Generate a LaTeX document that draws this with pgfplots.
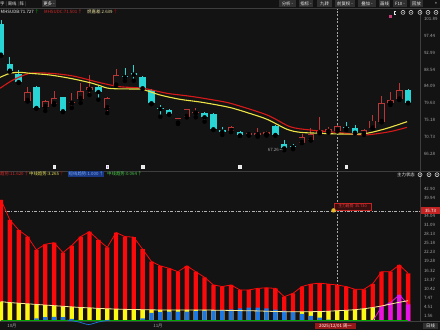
\documentclass[border=0pt]{standalone}
\usepackage{pgfplots}
\pgfplotsset{compat=1.18}
\usepackage{pgfplotstable}
\usepackage{fontspec}
\setmainfont{Noto Sans CJK SC}
\definecolor{bg}{RGB}{19,19,19}
\definecolor{cyanC}{RGB}{40,212,212}
\definecolor{redC}{RGB}{185,55,55}
\definecolor{maY}{RGB}{238,228,70}
\definecolor{maR}{RGB}{215,25,25}
\definecolor{barR}{RGB}{250,10,10}
\definecolor{barY}{RGB}{250,250,20}
\definecolor{barB}{RGB}{30,120,225}
\definecolor{barM}{RGB}{230,20,230}
\definecolor{lineC}{RGB}{62,62,62}
\definecolor{txtG}{RGB}{165,165,165}
\definecolor{btn}{RGB}{48,48,48}
\definecolor{lavender}{RGB}{190,150,235}
\definecolor{ylline}{RGB}{250,235,150}
\definecolor{legR}{RGB}{215,40,40}
\definecolor{legW}{RGB}{235,225,160}
\definecolor{legY}{RGB}{230,225,90}
\definecolor{legBbg}{RGB}{25,55,130}
\definecolor{legB}{RGB}{120,170,250}
\definecolor{legG}{RGB}{70,200,70}
\definecolor{pinkM}{RGB}{200,60,120}
\definecolor{tipbg}{RGB}{55,15,15}
\definecolor{tipR}{RGB}{235,60,60}
\definecolor{dotY}{RGB}{230,185,40}
\definecolor{boxR}{RGB}{195,35,35}
\definecolor{dateR}{RGB}{150,25,25}
\newcommand\tf{\fontsize{4.4}{5}\selectfont}

\pgfplotstableread{
i O H L C
0 100.60 101.50 92.20 92.46
1 90.09 91.77 87.90 88.24
2 87.44 88.50 85.00 85.25
4 84.01 84.20 78.20 78.39
7 81.21 81.40 77.30 77.51
11 83.93 84.10 80.58 82.61
14 86.92 88.95 85.52 86.57
15 87.63 89.66 85.59 87.18
16 86.65 86.80 83.40 83.59
17 83.14 83.30 79.40 79.63
18 78.46 79.18 76.09 78.12
19 77.86 78.00 76.60 76.80
23 76.99 77.20 74.77 75.93
24 76.80 77.00 72.60 72.76
25 72.58 73.29 71.26 72.13
27 72.05 72.20 71.00 71.18
31 73.63 73.80 71.10 71.26
32 68.88 69.93 67.26 67.74
33 68.35 68.90 67.50 68.01
39 73.29 74.77 72.58 73.03
40 73.03 73.90 71.70 71.86
46 83.14 83.30 79.60 79.78
}\downc

\pgfplotstableread{
i O H L C
3 80.31 83.85 80.10 82.53
5 78.65 80.40 77.59 80.23
6 79.44 82.80 79.20 81.03
8 79.60 82.35 78.39 79.71
9 80.84 84.99 79.71 82.80
10 83.22 87.18 81.82 83.93
12 78.39 81.20 77.06 81.03
13 84.38 88.76 84.20 87.02
20 74.34 75.80 74.20 75.66
21 76.09 78.20 75.90 78.04
22 76.99 78.30 75.93 77.41
26 72.39 73.60 72.00 73.29
28 71.26 71.90 71.10 71.71
29 71.26 73.03 70.80 71.71
30 71.40 72.40 71.10 72.00
34 69.22 71.52 69.10 70.65
35 69.93 73.03 69.80 71.52
36 71.86 75.93 71.71 72.58
37 72.13 73.29 71.86 72.76
38 72.39 74.00 72.20 73.63
41 71.44 72.80 71.30 72.58
42 73.03 76.54 72.90 75.03
43 74.77 81.55 74.60 79.63
44 79.63 82.70 79.18 80.50
45 80.68 84.91 80.50 83.14
}\upc

\pgfplotstableread{
i R Y YB B M G
0 39.2 6.2 6.2 0 0 0.25
1 32.7 5.9 5.9 0 0 0.25
2 29.4 5.7 5.7 0 0 0.25
3 27.3 5.5 5.5 0 0 0.25
4 23.0 5.3 5.3 0.8 0 0.25
5 24.8 5.1 5.1 1.2 0 0.25
6 25.3 4.9 4.9 1.3 0 0.25
7 22.1 4.7 4.7 1.2 0 0.25
8 24.4 4.5 4.5 0.6 0 0.25
9 27.3 4.3 4.3 0 0 0.25
10 28.9 4.2 4.2 0 0 0.25
11 26.2 4.0 4.0 0 0 0.25
12 23.8 3.9 3.9 0 0 0.25
13 28.6 3.8 3.8 0 0 0.25
14 27.3 3.7 3.7 0 0 0.25
15 27.1 3.65 3.65 0 0 0.25
16 23.2 3.6 3.6 0.8 0 0.25
17 19.2 3.55 3.55 2.6 0 0.25
18 17.8 3.5 3.5 2.9 0 0.25
19 17.0 3.5 3.5 3.0 0 0.25
20 15.9 3.5 3.5 3.0 0 0.25
21 17.8 3.5 3.5 3.0 0 0.25
22 15.9 3.5 3.5 3.1 0 0.25
23 14.1 3.5 3.5 3.3 0 0.25
24 11.6 3.45 3.45 3.4 0 0.25
25 11.1 3.4 3.4 3.5 0 0.25
26 11.6 3.35 3.35 3.7 0 0.25
27 10.0 3.3 3.3 4.0 0 0.25
28 10.0 3.25 3.25 4.3 0 0.25
29 10.5 3.2 3.2 4.3 0 0.25
30 10.7 3.1 3.1 4.0 0 0.25
31 10.5 3.0 3.0 3.6 0 0.25
32 7.8 2.95 2.95 3.3 0 0.25
33 8.9 2.9 2.9 2.8 0 0.25
34 11.1 2.9 2.9 2.2 0 0.25
35 11.9 2.95 2.95 1.6 0 0.25
36 12.2 3.0 3.0 1.0 0 0.25
37 11.9 3.1 3.1 0.4 0 0.25
38 11.6 3.27 3.27 0 0 0.25
39 11.1 3.4 3.4 0 0 0.25
40 10.2 3.6 3.6 0 0 0.25
41 10.2 3.9 3.9 0 0 0.25
42 12.0 4.3 4.3 0 0 0.25
43 15.9 4.8 0 0 4.5 0.25
44 15.9 5.4 0 0 5.9 0.25
45 18.1 6.0 0 0 8.4 0.25
46 15.4 6.5 0 0 5.3 0.25
}\lowt

\pgfplotsset{
  panel/.style={
    scale only axis, width=420pt, xmin=-0.113, xmax=47.34,
    axis x line=none, axis y line*=right,
    y axis line style={draw=none}, major tick length=0pt,
    yticklabel style={font=\tf, text=txtG, anchor=west, xshift=0.5pt},
    /pgf/number format/assume math mode=true,
  },
}

\begin{document}
\begin{tikzpicture}[x=1pt,y=1pt]
\useasboundingbox (0pt,0pt) rectangle (440pt,330pt);
\fill[bg] (0pt,0pt) rectangle (440pt,330pt);

% separators
\draw[lineC, line width=0.5pt] (0,159) -- (440,159);
\draw[lineC, line width=0.5pt] (420,8) -- (420,321);
\draw[lineC, line width=0.5pt] (0,8.3) -- (440,8.3);
\draw[lineC, line width=0.4pt] (0,321.5) -- (440,321.5);

% crosshair
\draw[gray!70, line width=0.35pt, dash pattern=on 2pt off 1.5pt] (337,9) -- (337,321);
\draw[gray!60, line width=0.35pt, dash pattern=on 3pt off 1.5pt on 0.8pt off 1.5pt] (0,119.3) -- (420,119.3);

% ---------- upper panel ----------
\begin{axis}[panel, at={(0pt,162pt)}, anchor=south west, height=158pt,
  ymin=62.54, ymax=104.27,
  ytick={66.28,70.73,75.18,79.63,84.09,88.54,92.99,97.44,101.89},
  yticklabels={66.28,70.73,75.18,79.63,84.09,88.54,92.99,97.44,101.89},
  clip=false]
% wicks
\addplot[only marks, mark=none, error bars/.cd, y dir=plus, y explicit, error mark=none,
  error bar style={draw=cyanC, line width=0.75pt}]
  table[x=i, y=L, y error plus expr={\thisrow{H}-\thisrow{L}}] {\downc};
\addplot[only marks, mark=none, error bars/.cd, y dir=plus, y explicit, error mark=none,
  error bar style={draw=redC, line width=0.7pt}]
  table[x=i, y=L, y error plus expr={\thisrow{H}-\thisrow{L}}] {\upc};
% bodies
\addplot[only marks, mark=none, error bars/.cd, y dir=plus, y explicit, error mark=none,
  error bar style={draw=cyanC, line width=6.5pt}]
  table[x=i, y expr={min(\thisrow{O},\thisrow{C})}, y error plus expr={max(abs(\thisrow{C}-\thisrow{O}),0.3)}] {\downc};
\addplot[only marks, mark=none, error bars/.cd, y dir=plus, y explicit, error mark=none,
  error bar style={draw=redC, line width=6.5pt}]
  table[x=i, y expr={min(\thisrow{O},\thisrow{C})}, y error plus expr={max(abs(\thisrow{C}-\thisrow{O}),0.3)}] {\upc};
\addplot[only marks, mark=none, error bars/.cd, y dir=plus, y explicit, error mark=none,
  error bar style={draw=bg, line width=5.1pt}]
  table[x=i, y expr={min(\thisrow{O},\thisrow{C})+0.19}, y error plus expr={max(abs(\thisrow{C}-\thisrow{O})-0.38,0)}] {\upc};
% moving averages
\addplot[maR, line width=1.1pt, smooth, mark=none] coordinates {
(-0.11,83.59) (1.36,85.78) (3.28,87.55) (5.54,87.55) (8.14,86.84) (11.19,85.07)
(13.45,84.01) (16.05,83.59) (18.76,82.27) (21.02,81.6) (22.49,81.1) (24.75,80.2)
(26.21,79.44) (30.06,76.54) (32.66,73.45) (34.92,72.58) (38.31,71.86) (40.90,71.26)
(42.82,71.71) (44.29,72.31) (45.88,73.29)};
\addplot[maY, line width=1.1pt, smooth, mark=none] coordinates {
(-0.11,86.49) (1.02,87.55) (2.15,87.81) (3.28,87.55) (5.54,87.10) (7.80,86.23)
(10.06,85.07) (11.19,84.27) (12.32,83.54) (14.92,83.40) (16.05,83.27) (17.97,81.82)
(20.23,80.68) (22.49,79.97) (24.75,79.05) (26.21,78.31) (28.14,76.93) (30.06,75.40)
(32.32,72.76) (33.79,71.97) (36.05,71.71) (38.31,71.52) (40.56,71.52) (41.69,71.86)
(43.62,73.03) (45.88,74.77)};
% signal squares
\addplot[only marks, mark=square*, mark size=1.4pt, draw=white!85!gray, fill=white!80!gray]
  coordinates {(6,62.85) (16,62.85) (27,62.85) (39,62.85)};
\addplot[only marks, mark=square*, mark size=1.4pt, draw=white!85!gray, fill=lavender]
  coordinates {(12,62.85)};
\end{axis}

% ---------- lower panel ----------
\begin{axis}[panel, at={(0pt,8.6pt)}, anchor=south west, height=143.45pt,
  ymin=-0.2, ymax=46.3, clip=false,
  ytick={1.56,4.51,7.47,10.42,13.37,16.32,19.28,22.23,25.18,28.13,31.09,34.04,39.94,42.90},
  yticklabels={1.56,4.51,7.47,10.42,13.37,16.32,19.28,22.23,25.18,28.13,31.09,34.04,39.94,42.90}]
\addplot[ybar, bar width=4.3pt, bar shift=0pt, fill=barR, draw=none] table[x=i, y=R] {\lowt};
\addplot[barR, line width=0.8pt, sharp plot, mark=none] table[x=i, y=R] {\lowt};
\addplot[ybar, bar width=4.3pt, bar shift=0pt, fill=barY, draw=none] table[x=i, y=YB] {\lowt};
\addplot[ybar, bar width=4.3pt, bar shift=0pt, fill=barB, draw=none] table[x=i, y=B] {\lowt};
\addplot[ybar, bar width=4.3pt, bar shift=0pt, fill=barM, draw=none] table[x=i, y=M] {\lowt};
\addplot[barM, line width=0.8pt, mark=none] coordinates {(42,0) (43,4.5) (44,5.9) (45,8.4) (46,5.3)};
\addplot[green!65!black, line width=0.6pt, mark=none] table[x=i, y=G] {\lowt};
\addplot[barB, line width=0.7pt, smooth, mark=none] coordinates {(7.5,0.25) (8.8,-0.4) (9.9,-1.2) (11,-0.4) (12.3,0.25)};
\addplot[ylline, line width=0.8pt, mark=none] table[x=i, y=Y] {\lowt};
\end{axis}

% ---------- texts ----------
% top toolbar
\foreach \a/\b/\t in {279/296/分析 -, 299/313/指标 -, 317/332/九转, 335/355/前复权 -, 358/376/叠加 -, 379/390/画线, 393/407/F10 -, 410/423/回放}{
  \fill[btn] (\a,322.6) rectangle (\b,329.6);
  \node[font=\tf, text=white!85!gray, inner sep=0pt] at ({(\a+\b)/2},326.1) {\t};
}
\node[font=\tf, text=white!85!gray, inner sep=0pt] at (436,326.1) {»};
\node[font=\tf, text=white!80!gray, inner sep=0pt, anchor=west] at (0,326.1) {字 \textcolor{gray}{|} 周线 \textcolor{gray}{|} 阵 \textcolor{gray}{|}};
\fill[btn] (42,322.6) rectangle (56,329.6);
\node[font=\tf, text=white!85!gray, inner sep=0pt] at (49,326.1) {更多 -};

% upper legend
\node[font=\tf, text=white!85!gray, inner sep=0pt, anchor=west] at (0.5,318.6) {MHSUDB:71.727\,\textcolor{green!70!black}{↑}};
\node[font=\tf, text=legR, inner sep=0pt, anchor=west] at (44,318.6) {MHSUDC:71.501\,↑};
\node[font=\tf, text=legW, inner sep=0pt, anchor=west] at (87,318.6) {燃嘉差:2.639\,\textcolor{red!80!black}{↑}};
% icons
\foreach \x in {403,411,420,428,436}{\draw[white!80!gray, line width=0.5pt] (\x,317.6) circle (2pt); \fill[white!80!gray] (\x,317.6) circle (0.6pt);}
\draw[white!80!gray, line width=0.5pt] (396,319) -- (394,319) -- (394,316) -- (396,316);
\fill[pinkM] (389,312.3) rectangle (391.5,314.8);

% low-price label
\node[font=\tf, text=txtG, inner sep=0pt, anchor=east] at (279,180.5) {67.26};
\draw[txtG, line width=0.3pt] (279.5,180.5) -- (283,180);

% lower legend
\node[font=\tf, text=legR, inner sep=0pt, anchor=west] at (0,155.8) {趋势:11.620\,↑};
\node[font=\tf, text=legY, inner sep=0pt, anchor=west] at (29,155.8) {中线趋势:3.265\,\textcolor{red!80!black}{↑}};
\fill[legBbg] (67.5,153) rectangle (104,158.6);
\node[font=\tf, text=legB, inner sep=0pt, anchor=west] at (68.5,155.8) {短线趋势:1.000\,↑};
\node[font=\tf, text=legG, inner sep=0pt, anchor=west] at (107,155.8) {中线趋势:0.064\,↑};
\node[font=\tf, text=white!85!gray, inner sep=0pt] at (406,155.3) {主力状态};
\foreach \x in {420,429,437}{\draw[white!80!gray, line width=0.5pt] (\x,155.3) circle (2pt); \fill[white!80!gray] (\x,155.3) circle (0.6pt);}

% crosshair tooltip and value box
\fill[tipbg] (334,120.2) rectangle (371,127);
\draw[boxR, line width=0.4pt] (334,120.2) rectangle (371,127);
\node[font=\fontsize{3.8}{4}\selectfont, text=tipR, inner sep=0pt] at (352.5,123.6) {主力趋势\, 35.730};
\fill[dotY] (333.5,119.6) circle (2.2pt);
\fill[boxR] (421,116.3) rectangle (440,122.6);
\node[font=\tf, text=white, inner sep=0pt] at (430.5,119.4) {35.73};

% dates
\node[font=\tf, text=txtG, inner sep=0pt] at (12,4.2) {10月};
\node[font=\tf, text=txtG, inner sep=0pt] at (158,4.2) {11月};
\fill[dateR] (315,0.8) rectangle (356,7.4);
\node[font=\tf, text=white, inner sep=0pt] at (335.5,4.1) {2025/12/01 周一};
\fill[btn] (423,0.8) rectangle (438,7.2);
\node[font=\tf, text=white!85!gray, inner sep=0pt] at (430.5,4) {日线};
\end{tikzpicture}
\end{document}
